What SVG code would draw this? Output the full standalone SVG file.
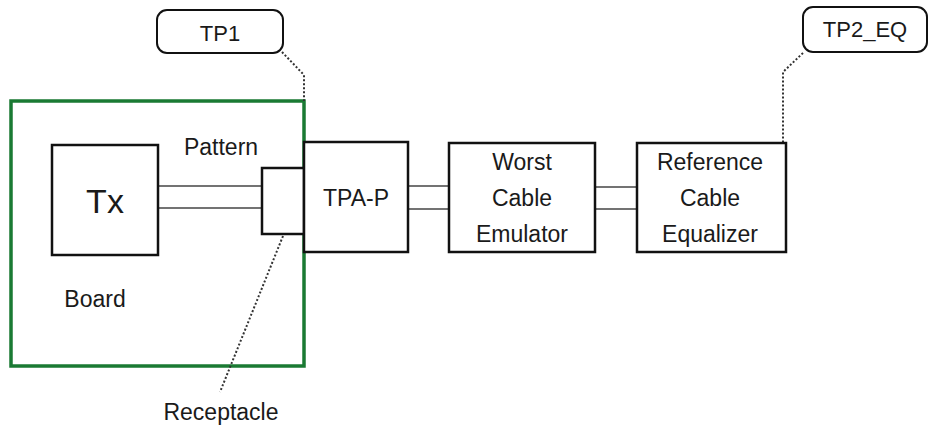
<svg xmlns="http://www.w3.org/2000/svg" width="929" height="432" viewBox="0 0 929 432">
<style>
.box{fill:#fff;stroke:#111;stroke-width:2.5}
.board{fill:none;stroke:#1a7a33;stroke-width:3.5}
.wire{stroke:#444;stroke-width:1.5;fill:none}
.dot{stroke:#333;stroke-width:2;fill:none;stroke-dasharray:2 2}
.call{fill:#fff;stroke:#111;stroke-width:2}
text{font-family:"Liberation Sans",Arial,sans-serif;font-size:23px;fill:#1a1a1a;text-anchor:middle}
</style>
<rect width="929" height="432" fill="#fff"/>
<g id="board">
<rect class="board" x="11" y="101" width="293" height="265"/>
<text x="95" y="307">Board</text>
<text x="221" y="155">Pattern</text>
</g>
<g id="connectors">
<line class="wire" x1="158" y1="186" x2="262" y2="186"/>
<line class="wire" x1="158" y1="208" x2="262" y2="208"/>
<line class="wire" x1="408" y1="186" x2="449" y2="186"/>
<line class="wire" x1="408" y1="209" x2="449" y2="209"/>
<line class="wire" x1="595" y1="187" x2="637" y2="187"/>
<line class="wire" x1="595" y1="209" x2="637" y2="209"/>
<polyline class="dot" points="282,52 304,75 304,101"/>
<polyline class="dot" points="803,53 783,72 783,143"/>
<line class="dot" x1="283" y1="236" x2="220" y2="392"/>
</g>
<g id="tx">
<rect class="box" x="52" y="145" width="106" height="110"/>
<text x="105" y="213" style="font-size:34px">Tx</text>
</g>
<g id="receptacle">
<rect class="box" x="262" y="168" width="42" height="66"/>
<text x="221" y="420">Receptacle</text>
</g>
<g id="tpap">
<rect class="box" x="304" y="142" width="104" height="110"/>
<text x="356" y="206">TPA-P</text>
</g>
<g id="worst">
<rect class="box" x="449" y="143" width="146" height="109"/>
<text x="522" y="170">Worst</text>
<text x="522" y="206">Cable</text>
<text x="522" y="242">Emulator</text>
</g>
<g id="equalizer">
<rect class="box" x="637" y="143" width="149" height="109"/>
<text x="710" y="170">Reference</text>
<text x="710" y="206">Cable</text>
<text x="710" y="242">Equalizer</text>
</g>
<g id="tp1">
<rect class="call" x="157" y="10" width="126" height="43" rx="10"/>
<text x="220" y="41" style="font-size:22px">TP1</text>
</g>
<g id="tp2eq">
<rect class="call" x="803" y="7" width="124" height="45" rx="10"/>
<text x="865" y="37" style="font-size:22px">TP2_EQ</text>
</g>
</svg>
